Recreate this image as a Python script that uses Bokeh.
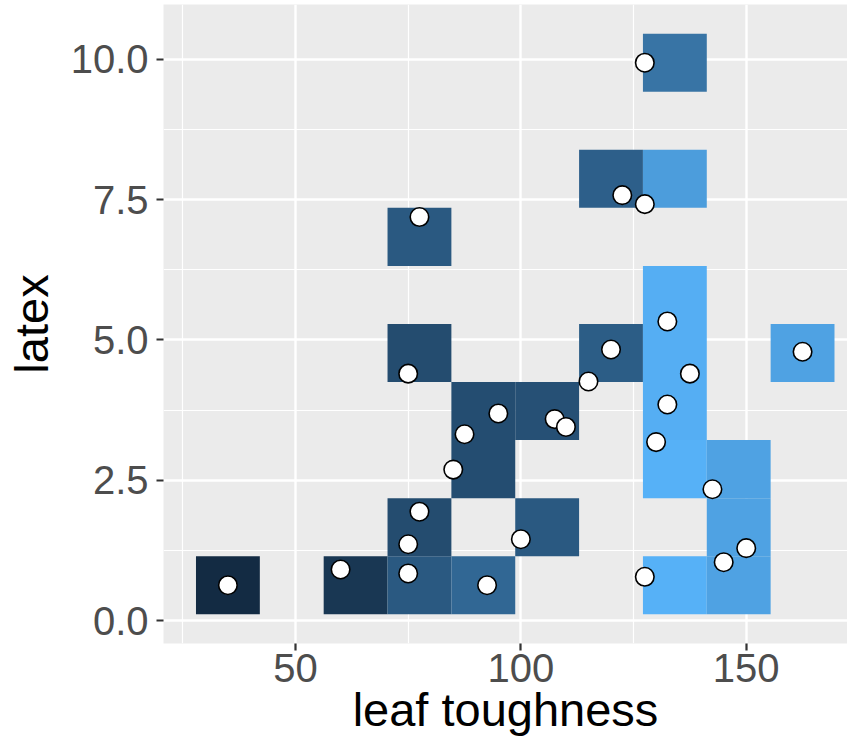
from bokeh.plotting import figure
from bokeh.models import Range1d, FixedTicker, ColumnDataSource
from bokeh.embed import file_html
from bokeh.resources import INLINE

# ---- data ----
leaf_toughness = [35, 60, 75, 75, 77.5, 92.5, 100, 85, 87.5, 95, 107.5, 110, 115, 120,
                  75, 77.5, 122.5, 127.5, 127.5, 132.5, 137.5, 132.5, 130, 142.5, 145,
                  150, 127.5, 162.5]
latex = [0.63, 0.91, 0.84, 1.36, 1.94, 0.63, 1.45, 2.69, 3.32, 3.69, 3.59, 3.45, 4.26, 4.83,
         4.40, 7.19, 7.58, 7.42, 9.94, 5.33, 4.40, 3.85, 3.18, 2.34, 1.04, 1.29, 0.78, 4.79]

# 2D bins (10 x 10): column index, row index, fill value (scaled 0..1)
tile_col = [0, 2, 3, 4, 7, 8, 3, 5, 8, 4, 7, 8, 4, 5, 7, 3, 6, 7, 9, 7, 3, 6, 7, 7]
tile_row = [0, 0, 0, 0, 0, 0, 1, 1, 1, 2, 2, 2, 3, 3, 3, 4, 4, 4, 4, 5, 6, 7, 7, 9]
tile_value = [0.00, 0.10, 0.37, 0.48, 1.00, 0.90, 0.27, 0.37, 0.90, 0.28, 1.00, 0.90,
              0.28, 0.30, 0.98, 0.27, 0.40, 0.98, 0.90, 0.98, 0.37, 0.42, 0.86, 0.57]
n_bins = 10

x_ticks = [50, 100, 150]
x_minor = [25, 75, 125, 175]
y_ticks = [0, 2.5, 5, 7.5, 10]
y_minor = [1.25, 3.75, 6.25, 8.75]
y_tick_labels = ["0.0", "2.5", "5.0", "7.5", "10.0"]
x_title = "leaf toughness"
y_title = "latex"

low_col, high_col = "#132B43", "#56B1F7"

# ---- colour scale (Lab interpolation like ggplot's gradient) ----
def _lin(c):
    c = c / 255.0
    return c / 12.92 if c <= 0.04045 else ((c + 0.055) / 1.055) ** 2.4

def _delin(c):
    c = 12.92 * c if c <= 0.0031308 else 1.055 * c ** (1 / 2.4) - 0.055
    return max(0, min(255, round(c * 255)))

WN = (0.95047, 1.0, 1.08883)

def hex_to_lab(h):
    r, g, b = (_lin(int(h[i:i + 2], 16)) for i in (1, 3, 5))
    X = 0.4124 * r + 0.3576 * g + 0.1805 * b
    Y = 0.2126 * r + 0.7152 * g + 0.0722 * b
    Z = 0.0193 * r + 0.1192 * g + 0.9505 * b
    def f(t):
        return t ** (1 / 3) if t > 0.008856 else 7.787 * t + 16 / 116
    fx, fy, fz = f(X / WN[0]), f(Y / WN[1]), f(Z / WN[2])
    return (116 * fy - 16, 500 * (fx - fy), 200 * (fy - fz))

def lab_to_hex(L, a, b):
    fy = (L + 16) / 116
    fx = fy + a / 500
    fz = fy - b / 200
    def fi(t):
        return t ** 3 if t ** 3 > 0.008856 else (t - 16 / 116) / 7.787
    X, Y, Z = fi(fx) * WN[0], fi(fy) * WN[1], fi(fz) * WN[2]
    r = 3.2406 * X - 1.5372 * Y - 0.4986 * Z
    g = -0.9689 * X + 1.8758 * Y + 0.0415 * Z
    bb = 0.0557 * X - 0.2040 * Y + 1.0570 * Z
    return "#%02x%02x%02x" % (_delin(r), _delin(g), _delin(bb))

lab_lo, lab_hi = hex_to_lab(low_col), hex_to_lab(high_col)
vmin, vmax = min(tile_value), max(tile_value)

def fill_for(v):
    t = (v - vmin) / (vmax - vmin)
    return lab_to_hex(*[lo + (hi - lo) * t for lo, hi in zip(lab_lo, lab_hi)])

# bin geometry derived from the data range (bins centred on the extremes)
bw_x = (max(leaf_toughness) - min(leaf_toughness)) / (n_bins - 1)
bw_y = (max(latex) - min(latex)) / (n_bins - 1)
x_cent = [min(leaf_toughness) + c * bw_x for c in tile_col]
y_cent = [min(latex) + r * bw_y for r in tile_row]

tiles = ColumnDataSource(dict(x=x_cent, y=y_cent,
                              fill=[fill_for(v) for v in tile_value]))
pts = ColumnDataSource(dict(x=leaf_toughness, y=latex))

# ---- figure ----
FONT = "Liberation Sans"
p = figure(width=847, height=739, output_backend="svg", toolbar_location=None,
           x_range=Range1d(20.71, 172.47), y_range=Range1d(-0.4085, 10.977),
           min_border_left=163, min_border_right=0, min_border_top=4,
           min_border_bottom=96)
p.background_fill_color = "#EBEBEB"
p.border_fill_color = "white"
p.outline_line_color = None

p.rect(x="x", y="y", width=bw_x, height=bw_y, source=tiles,
       fill_color="fill", line_color=None)
p.scatter(x="x", y="y", source=pts, size=18.5, fill_color="white",
          line_color="black", line_width=1.6)

p.xaxis.ticker = FixedTicker(ticks=x_ticks, minor_ticks=x_minor)
p.yaxis.ticker = FixedTicker(ticks=y_ticks, minor_ticks=y_minor)
p.yaxis.major_label_overrides = {t: s for t, s in zip(y_ticks, y_tick_labels)}

for g in (p.xgrid, p.ygrid):
    g.grid_line_color = "white"
    g.grid_line_width = 2.4
    g.minor_grid_line_color = "white"
    g.minor_grid_line_width = 1.2

for ax in (p.xaxis, p.yaxis):
    ax.axis_line_color = None
    ax.major_tick_line_color = "#333333"
    ax.major_tick_line_width = 2.2
    ax.major_tick_in = 0
    ax.major_tick_out = 7
    ax.minor_tick_line_color = None
    ax.major_label_text_font = FONT
    ax.major_label_text_font_size = "40px"
    ax.major_label_text_color = "#4D4D4D"
    ax.axis_label_text_font = FONT
    ax.axis_label_text_font_size = "47px"
    ax.axis_label_text_font_style = "normal"
    ax.axis_label_text_color = "black"

p.xaxis.axis_label = x_title
p.yaxis.axis_label = y_title
p.xaxis.major_label_standoff = 3
p.xaxis.axis_label_standoff = -2
p.yaxis.major_label_standoff = 8
p.yaxis.axis_label_standoff = 10

open("out.html", "w").write(file_html(p, INLINE))
